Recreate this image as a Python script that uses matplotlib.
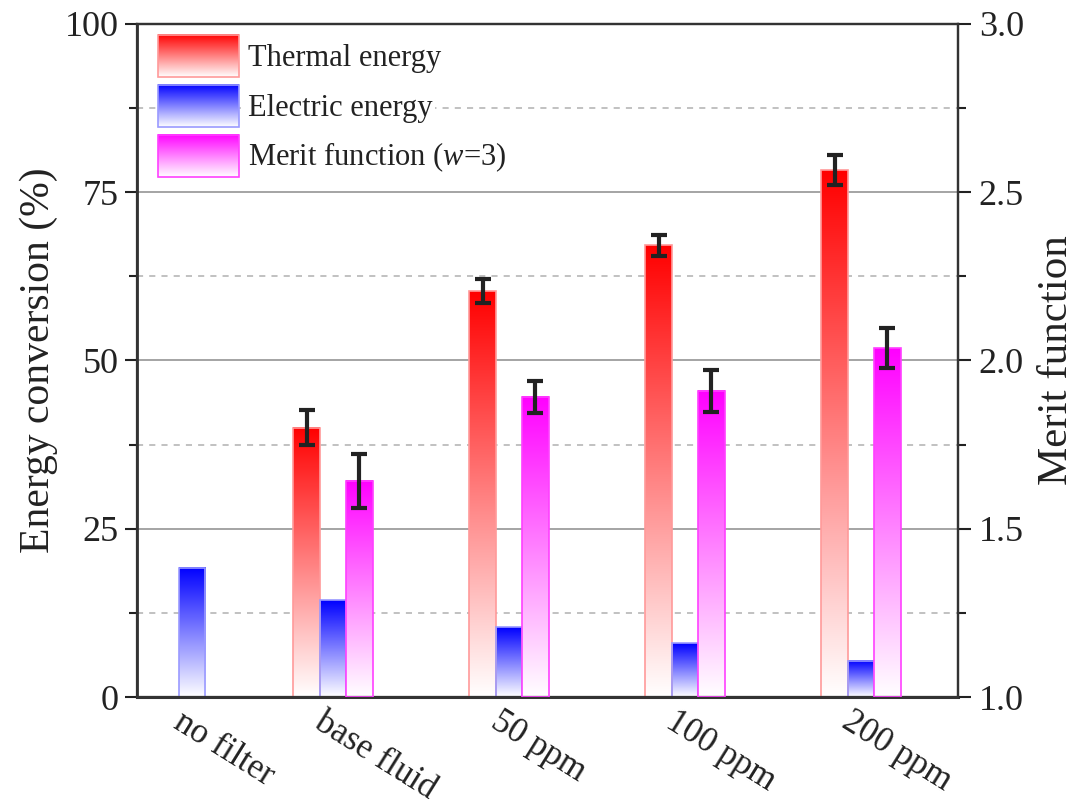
import matplotlib
matplotlib.use("Agg")
import matplotlib.pyplot as plt
import numpy as np
from matplotlib.patches import Rectangle
from matplotlib.legend_handler import HandlerBase
from matplotlib.image import BboxImage
from matplotlib.transforms import Bbox, TransformedBbox, ScaledTranslation
from matplotlib.ticker import MultipleLocator

plt.rcParams["font.family"] = ["Liberation Serif", "DejaVu Serif"]
plt.rcParams["mathtext.fontset"] = "custom"
plt.rcParams["mathtext.it"] = "Liberation Serif:italic"
plt.rcParams["mathtext.rm"] = "Liberation Serif"

categories = ["no filter", "base fluid", "50 ppm", "100 ppm", "200 ppm"]
thermal = [np.nan, 40.0, 60.3, 67.1, 78.3]
thermal_err = [np.nan, 2.6, 1.75, 1.6, 2.3]
electric = [19.2, 14.4, 10.4, 8.0, 5.4]
merit = [np.nan, 1.642, 1.892, 1.910, 2.037]
merit_err = [np.nan, 0.08, 0.048, 0.062, 0.06]

# group centres (no filter group sits closer to base fluid in the original)
xpos = np.array([0.2, 1.0, 2.0, 3.0, 4.0])
w = 0.15

RED, BLUE, MAG = "#ff0000", "#0000ff", "#ff00ff"
RED_E, BLUE_E, MAG_E = "#ff9a9a", "#9a9aff", "#ff40ff"


def gradient(color, n=256):
    c = np.array(matplotlib.colors.to_rgb(color))
    t = np.linspace(0, 1, n)[:, None]
    rgb = (1 - t) * np.ones(3) + t * c
    return rgb[:, None, :]


def grad_bars(ax, x, heights, base, color, edge):
    bars = ax.bar(x, np.array(heights) - base, width=w, bottom=base,
                  facecolor="none", edgecolor=edge, linewidth=1.2, zorder=3)
    for b in bars:
        h = b.get_height()
        if np.isnan(h):
            continue
        x0 = b.get_x()
        ax.imshow(gradient(color), extent=[x0, x0 + b.get_width(), base, base + h],
                  origin="lower", aspect="auto", interpolation="bilinear", zorder=2)
    return bars


class GradHandler(HandlerBase):
    def __init__(self, color, edge):
        super().__init__()
        self.color = color
        self.edge = edge

    def create_artists(self, legend, orig_handle, xdescent, ydescent, width, height, fontsize, trans):
        box = (-xdescent, -ydescent, width, height)
        bb = TransformedBbox(Bbox.from_bounds(*box), trans)
        img = BboxImage(bb, interpolation="bilinear")
        img.set_data(gradient(self.color)[::-1])
        rect = Rectangle(box[:2], box[2], box[3], facecolor="none",
                         edgecolor=self.edge, linewidth=1.2, transform=trans)
        return [img, rect]


fig = plt.figure(figsize=(10.83, 8.07), dpi=100)
ax = fig.add_axes([0.1265, 0.1363, 0.758, 0.834])
ax2 = ax.twinx()

grad_bars(ax, xpos - w, thermal, 0, RED, RED_E)
grad_bars(ax, xpos, electric, 0, BLUE, BLUE_E)
grad_bars(ax2, xpos + w, merit, 1.0, MAG, MAG_E)

ax.errorbar(xpos - w, thermal, yerr=thermal_err, fmt="none", ecolor="#222222",
            elinewidth=3, capsize=6, capthick=3, zorder=5)
ax2.errorbar(xpos + w, merit, yerr=merit_err, fmt="none", ecolor="#222222",
             elinewidth=3, capsize=6, capthick=3, zorder=5)

ax.set_xlim(-0.114, 4.551)
ax.set_ylim(0, 100)
ax2.set_ylim(1.0, 3.0)

ax.yaxis.set_major_locator(MultipleLocator(25))
ax.yaxis.set_minor_locator(MultipleLocator(12.5))
ax2.yaxis.set_major_locator(MultipleLocator(0.5))
ax2.yaxis.set_minor_locator(MultipleLocator(0.25))
ax2.yaxis.set_major_formatter(matplotlib.ticker.FormatStrFormatter("%.1f"))

ax.grid(True, which="major", axis="y", color="#8c8c8c", linewidth=1.1, zorder=0)
ax.grid(True, which="minor", axis="y", color="#b0b0b0", linewidth=1.1,
        linestyle=(0, (4, 4)), zorder=0)
ax.set_axisbelow(True)

ax.set_xticks(xpos)
ax.set_xticklabels(categories, rotation=-32, ha="left", va="top", rotation_mode="anchor")
ax.tick_params(axis="x", length=0, pad=6, labelsize=25, colors="#222222")
for lab in ax.get_xticklabels():
    lab.set_transform(lab.get_transform() + ScaledTranslation(-0.07, 0, fig.dpi_scale_trans))

ax.tick_params(axis="y", which="major", direction="out", length=9, width=1.5,
               labelsize=26, pad=4, colors="#222222")
ax.tick_params(axis="y", which="minor", direction="out", length=6, width=1.5, colors="#222222")
ax2.tick_params(axis="y", which="major", direction="out", length=9, width=1.5,
                labelsize=26, pad=6, colors="#222222")
ax2.tick_params(axis="y", which="minor", direction="out", length=6, width=1.5, colors="#222222")

for a in (ax, ax2):
    for s in a.spines.values():
        s.set_color("#333333")
        s.set_linewidth(1.6)
ax.spines["bottom"].set_linewidth(2.2)
ax.spines["left"].set_linewidth(2.0)

ax.set_ylabel("Energy conversion (%)", fontsize=30, labelpad=5, color="#222222")
ax2.set_ylabel("Merit function", fontsize=31, labelpad=10, color="#222222")

handles = [Rectangle((0, 0), 1, 1) for _ in range(3)]
labels = ["Thermal energy", "Electric energy", "Merit function ($\\mathit{w}$=3)"]
leg = ax2.legend(handles, labels, loc="upper left", bbox_to_anchor=(0.026, 0.984),
                 frameon=False, fontsize=22, handlelength=2.65, handleheight=1.74,
                 handletextpad=0.3, labelspacing=0.26, borderpad=0, borderaxespad=0,
                 labelcolor="#222222",
                 handler_map={handles[0]: GradHandler(RED, RED_E),
                              handles[1]: GradHandler(BLUE, BLUE_E),
                              handles[2]: GradHandler(MAG, MAG_E)})
for t in leg.get_texts():
    t.set_bbox(dict(facecolor="white", edgecolor="none", pad=1))

fig.savefig("out.png", dpi=100)
